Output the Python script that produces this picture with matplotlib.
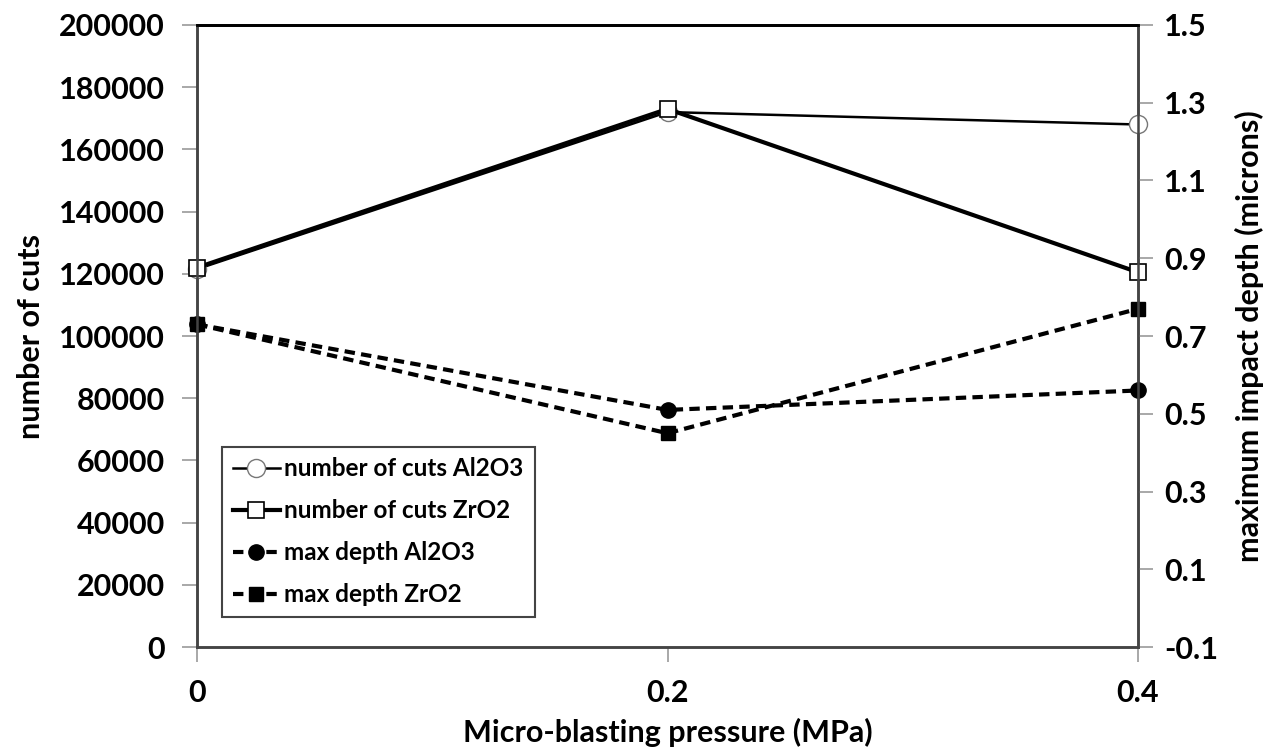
import matplotlib
matplotlib.use("Agg")
import matplotlib.pyplot as plt
from matplotlib.ticker import FixedLocator

plt.rcParams['font.family'] = ['Lato', 'DejaVu Sans']
plt.rcParams['font.weight'] = 'bold'

# micro-blasting pressure (MPa)
pressure = [0, 0.2, 0.4]
x_ticks = [0, 0.2, 0.4]
x_labels = ['0', '0.2', '0.4']

# number of cuts
cuts_al2o3 = [121500, 172000, 168000]
cuts_zro2 = [122000, 173000, 120500]

# maximum impact depth (microns)
depth_al2o3 = [0.73, 0.51, 0.56]
depth_zro2 = [0.73, 0.45, 0.77]

left_ticks = list(range(0, 200001, 20000))
right_ticks = [-0.1, 0.1, 0.3, 0.5, 0.7, 0.9, 1.1, 1.3, 1.5]

fig = plt.figure(figsize=(12.88, 7.56), dpi=100, facecolor='white')
ax = fig.add_axes([0.153, 0.144, 0.7305, 0.823])
ax2 = ax.twinx()

l1, = ax.plot(pressure, cuts_al2o3, color='black', lw=1.8, marker='o', ms=13,
              mfc='white', mec='#777777', mew=1.0, zorder=3, clip_on=False,
              label='number of cuts Al2O3')
l2, = ax.plot(pressure, cuts_zro2, color='black', lw=3.0, marker='s', ms=11,
              mfc='white', mec='black', mew=1.2, zorder=4, clip_on=False,
              label='number of cuts ZrO2')
l3, = ax2.plot(pressure, depth_al2o3, color='black', lw=3.0, ls=(0, (2.5, 1.5)),
               marker='o', ms=11, mfc='black', mec='black', clip_on=False,
               label='max depth Al2O3')
l4, = ax2.plot(pressure, depth_zro2, color='black', lw=3.0, ls=(0, (2.5, 1.5)),
               marker='s', ms=10, mfc='black', mec='black', clip_on=False,
               label='max depth ZrO2')

ax.set_xlim(0, 0.4)
ax.set_ylim(0, 200000)
ax2.set_ylim(-0.1, 1.5)
ax.xaxis.set_major_locator(FixedLocator(x_ticks))
ax.set_xticklabels(x_labels)
ax.yaxis.set_major_locator(FixedLocator(left_ticks))
ax.set_yticklabels([str(v) for v in left_ticks])
ax2.yaxis.set_major_locator(FixedLocator(right_ticks))
ax2.set_yticklabels(['%.1f' % v for v in right_ticks])

for a in (ax, ax2):
    a.tick_params(axis='both', direction='out', length=11, width=1.2,
                  color='#999999', labelsize=22, pad=12)
    for s in a.spines.values():
        s.set_color('#444444')
        s.set_linewidth(1.8)
    a.spines['top'].set_color('black')
    a.spines['top'].set_linewidth(2.0)
ax2.tick_params(axis='y', pad=8)
ax.tick_params(axis='x', pad=12)

ax.set_xlabel('Micro-blasting pressure (MPa)', fontsize=22, fontweight='bold',
              labelpad=8)
ax.set_ylabel('number of cuts', fontsize=22, fontweight='bold', labelpad=10)
ax2.set_ylabel('maximum impact depth (microns)', fontsize=22,
               fontweight='bold', labelpad=12)

leg = ax2.legend(handles=[l1, l2, l3, l4], loc='lower left',
                 bbox_to_anchor=(0.027, 0.048), borderaxespad=0, fontsize=17.5,
                 frameon=True, fancybox=False, framealpha=1,
                 edgecolor='#444444', handlelength=1.9, handletextpad=0.2,
                 labelspacing=0.78, borderpad=0.45)
leg.get_frame().set_linewidth(1.5)

fig.savefig('out.png', dpi=100, facecolor='white')
